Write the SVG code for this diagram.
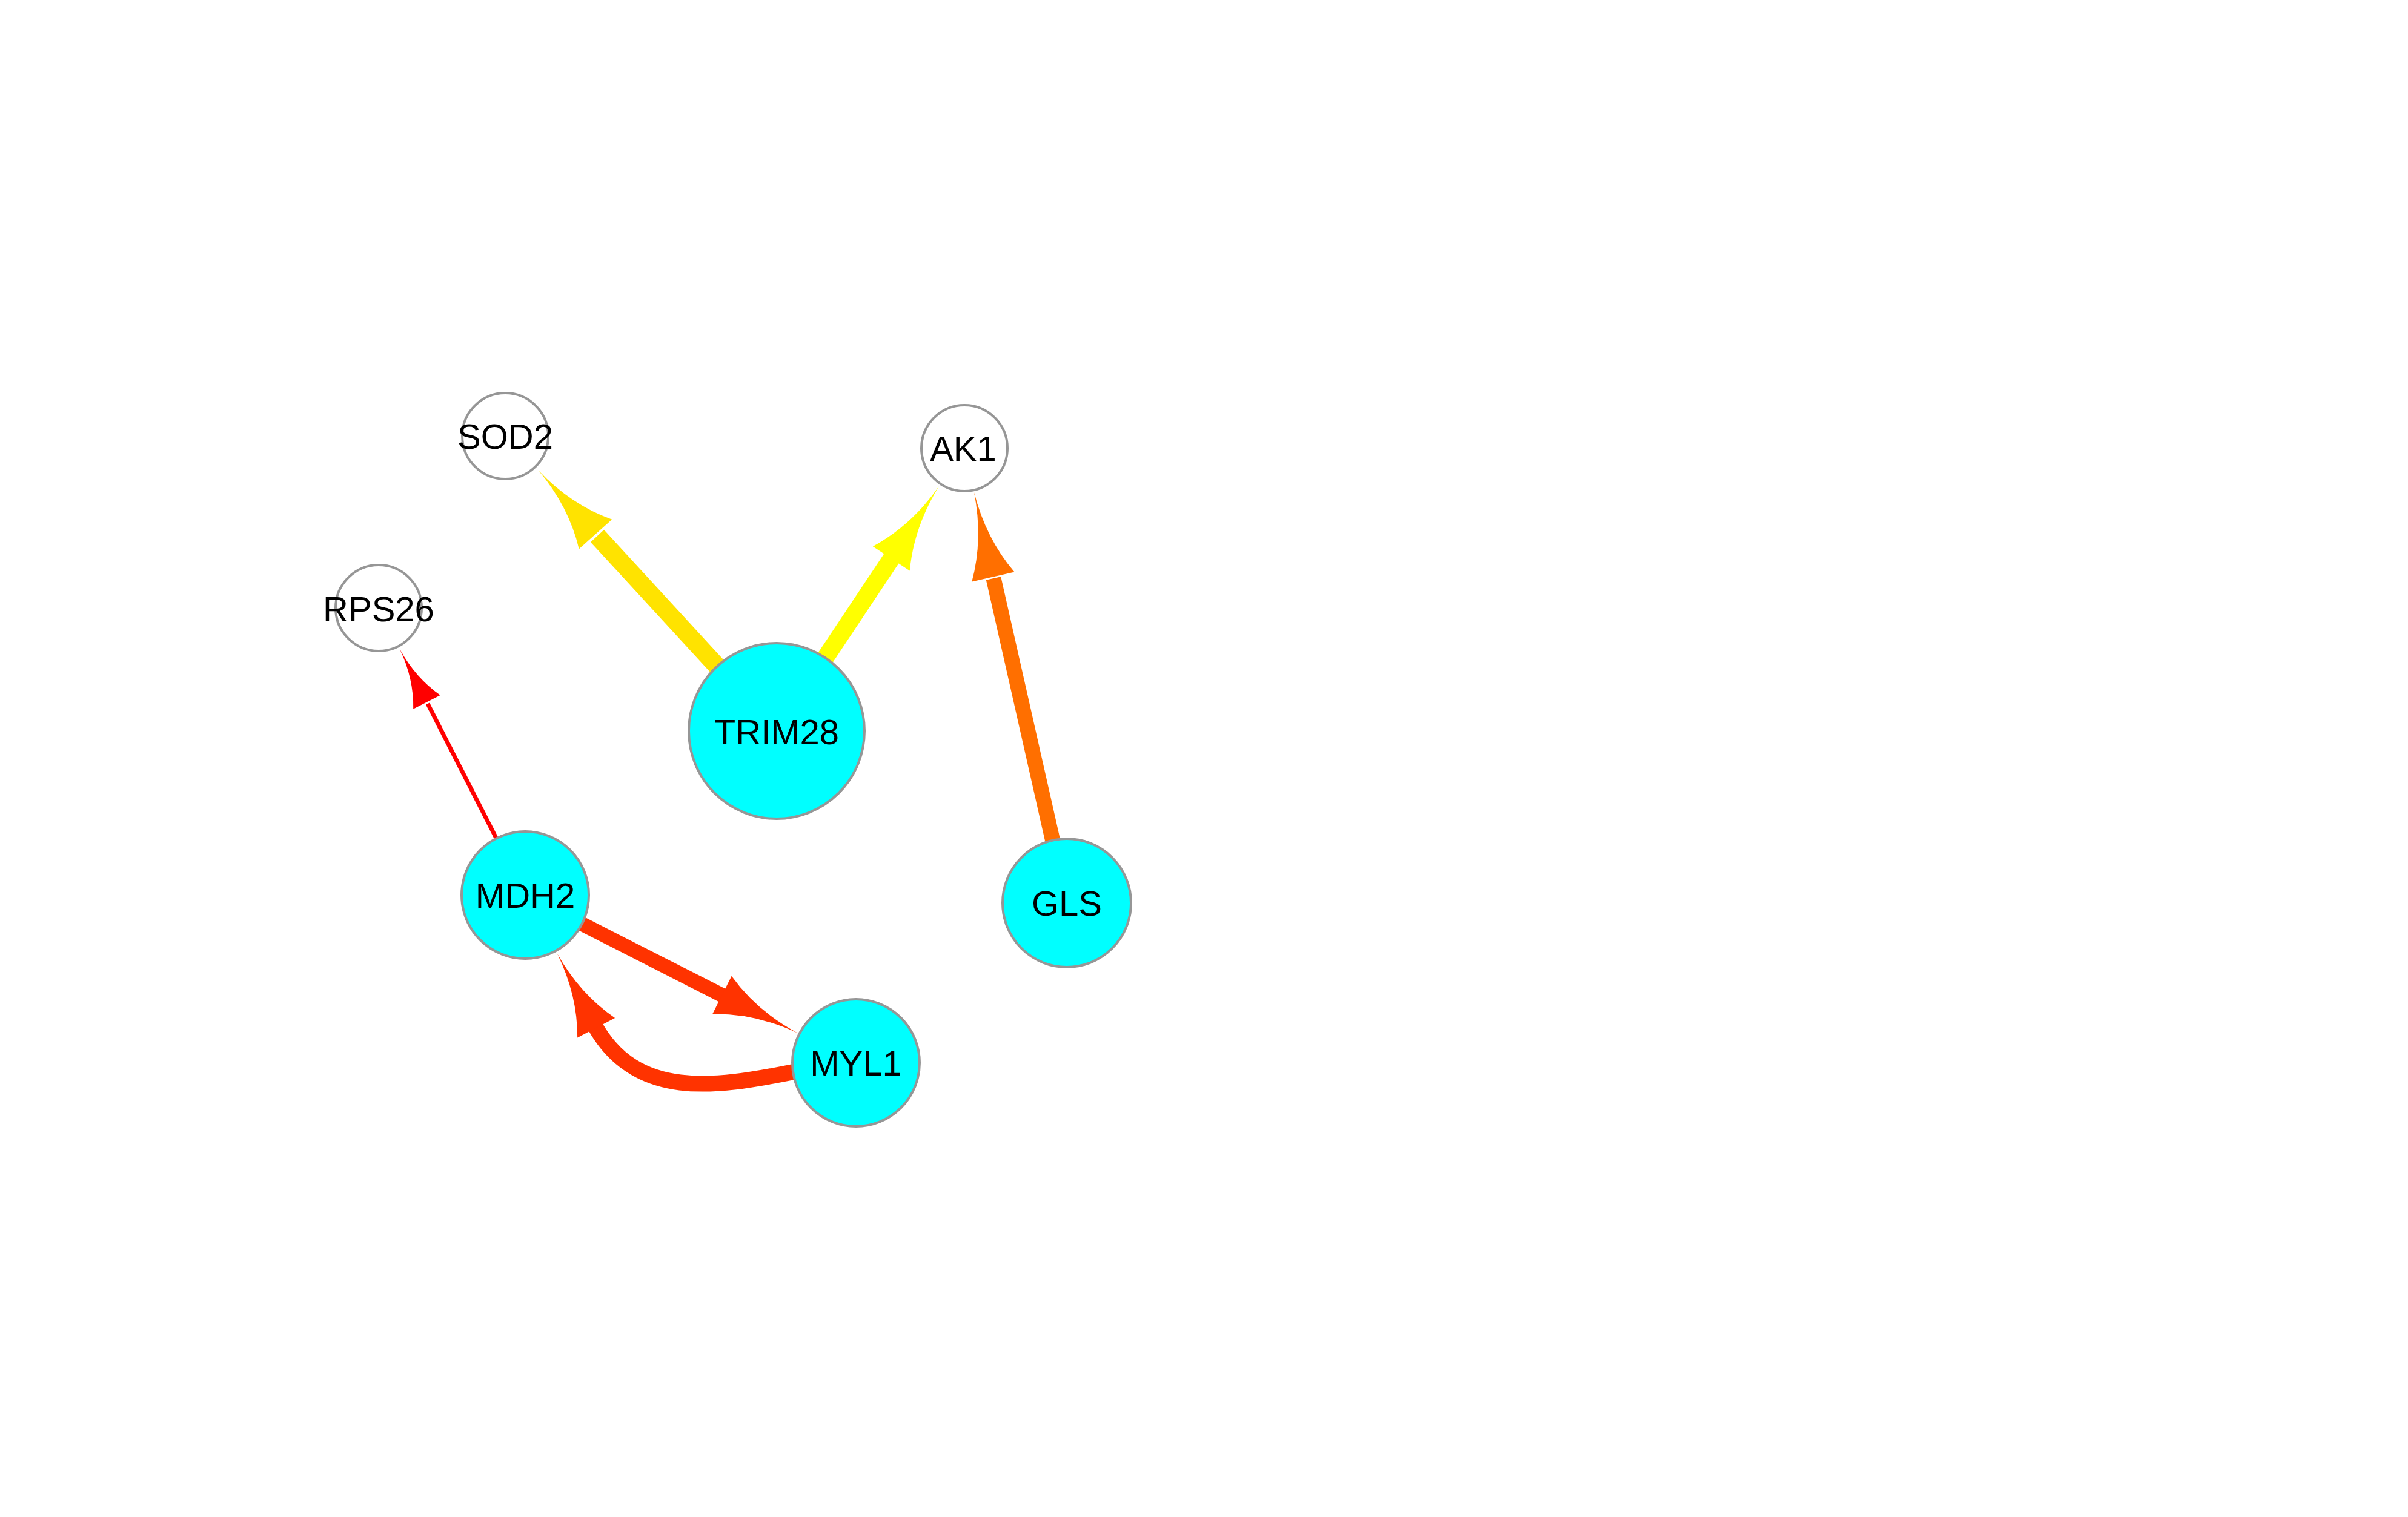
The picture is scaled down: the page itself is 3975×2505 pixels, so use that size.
<svg xmlns="http://www.w3.org/2000/svg" xmlns:xlink="http://www.w3.org/1999/xlink" width="3975" height="2505" viewBox="0 0 3975 2505">
<style>
.node circle{stroke:#969696;stroke-width:4}
.hub{fill:#00ffff}
.leaf{fill:#ffffff}
.node text{font-family:"Liberation Sans",Arial,sans-serif;font-size:58px;fill:#000;text-anchor:middle}
.edge{fill:none;stroke-linecap:butt}
</style>
<defs>
<path id="ah" d="M0,0 Q-0.55,0.03 -1,0.5 L-1,-0.5 Q-0.55,-0.03 0,0 Z"/>
</defs>
<rect width="3975" height="2505" fill="#ffffff"/>
<g id="connectors">
<g id="e-trim28-sod2">
<line class="edge" x1="1282" y1="1207" x2="986" y2="885" stroke="#ffe300" stroke-width="30"/>
<use xlink:href="#ah" href="#ah" fill="#ffe300" transform="translate(889,777) rotate(-131.8) scale(141,73)"/>
</g>
<g id="e-trim28-ak1">
<line class="edge" x1="1282" y1="1207" x2="1473" y2="920" stroke="#ffff00" stroke-width="29"/>
<use xlink:href="#ah" href="#ah" fill="#ffff00" transform="translate(1550,803) rotate(-56.6) scale(143,73)"/>
</g>
<g id="e-gls-ak1">
<line class="edge" x1="1761" y1="1491" x2="1640" y2="955" stroke="#ff6f00" stroke-width="25"/>
<use xlink:href="#ah" href="#ah" fill="#ff6f00" transform="translate(1608,813) rotate(-102.7) scale(143,72)"/>
</g>
<g id="e-mdh2-rps26">
<line class="edge" x1="867" y1="1478" x2="706" y2="1162" stroke="#ff0000" stroke-width="7"/>
<use xlink:href="#ah" href="#ah" fill="#ff0000" transform="translate(660,1072) rotate(-117) scale(98,50)"/>
</g>
<g id="e-mdh2-myl1">
<line class="edge" x1="867" y1="1478" x2="1195" y2="1645" stroke="#ff3300" stroke-width="24"/>
<use xlink:href="#ah" href="#ah" fill="#ff3300" transform="translate(1317,1706) rotate(26.7) scale(140,70)"/>
</g>
<g id="e-myl1-mdh2">
<path class="edge" d="M1330,1767 L1310,1770 C1180,1796 1050,1816 982,1694" stroke="#ff3300" stroke-width="26"/>
<use xlink:href="#ah" href="#ah" fill="#ff3300" transform="translate(920,1575) rotate(-117.7) scale(138,70)"/>
</g>
</g>
<g id="node-sod2" class="node"><circle class="leaf" cx="834" cy="720" r="71"/><text x="834" y="741">SOD2</text></g>
<g id="node-ak1" class="node"><circle class="leaf" cx="1592" cy="740" r="71"/><text x="1590" y="761">AK1</text></g>
<g id="node-rps26" class="node"><circle class="leaf" cx="625" cy="1004" r="71"/><text x="625" y="1026">RPS26</text></g>
<g id="node-trim28" class="node"><circle class="hub" cx="1282" cy="1207" r="145"/><text x="1282" y="1229">TRIM28</text></g>
<g id="node-mdh2" class="node"><circle class="hub" cx="867" cy="1478" r="105"/><text x="867" y="1499">MDH2</text></g>
<g id="node-gls" class="node"><circle class="hub" cx="1761" cy="1491" r="106"/><text x="1761" y="1512">GLS</text></g>
<g id="node-myl1" class="node"><circle class="hub" cx="1413" cy="1755" r="105"/><text x="1413" y="1776">MYL1</text></g>
</svg>
